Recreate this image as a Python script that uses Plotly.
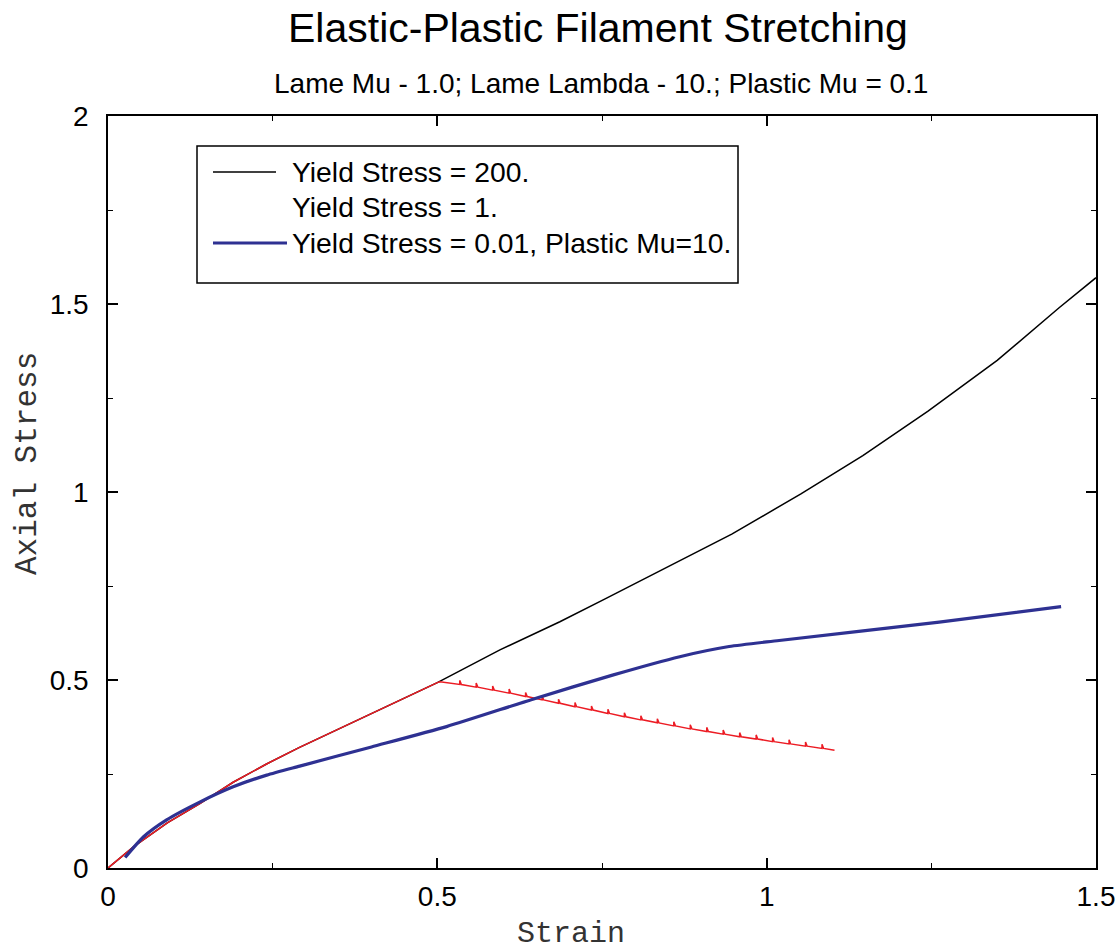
import plotly.graph_objects as go

# ---------------- data ----------------
# Yield Stress = 200. (black)
black_x = [0.0, 0.04, 0.09, 0.14, 0.19, 0.24, 0.29, 0.36, 0.43, 0.5, 0.595, 0.686, 0.754,
           0.848, 0.947, 1.052, 1.146, 1.245, 1.350, 1.444, 1.5]
black_y = [0.0, 0.058, 0.12, 0.172, 0.228, 0.276, 0.32, 0.378, 0.436, 0.493, 0.580, 0.655, 0.715,
           0.800, 0.888, 0.995, 1.097, 1.215, 1.350, 1.490, 1.570]

# Yield Stress = 1. (red) : elastic part, then sawtooth plastic part
red_elastic_x = [0.0, 0.04, 0.09, 0.14, 0.19, 0.24, 0.29, 0.36, 0.43, 0.5, 0.504, 0.52]
red_elastic_y = [0.0, 0.058, 0.12, 0.172, 0.228, 0.276, 0.32, 0.378, 0.436, 0.493, 0.495, 0.491]
red_spike_x = [0.534, 0.559, 0.584, 0.609, 0.634, 0.659, 0.684, 0.709, 0.734, 0.759, 0.784, 0.809,
               0.834, 0.859, 0.884, 0.909, 0.934, 0.959, 0.984, 1.009, 1.034, 1.059, 1.084]
red_base_y = [0.488, 0.481, 0.473, 0.465, 0.456, 0.447, 0.438, 0.429, 0.420, 0.411, 0.402, 0.394,
              0.386, 0.378, 0.370, 0.363, 0.356, 0.349, 0.343, 0.336, 0.330, 0.324, 0.318]
red_top_y = [0.499, 0.492, 0.484, 0.476, 0.467, 0.458, 0.449, 0.440, 0.431, 0.422, 0.413, 0.405,
             0.397, 0.389, 0.381, 0.374, 0.367, 0.360, 0.354, 0.347, 0.341, 0.335, 0.329]
red_end_x = [1.103]
red_end_y = [0.313]

# Yield Stress = 0.01, Plastic Mu=10. (blue)
blue_x = [0.026, 0.054, 0.089, 0.14, 0.19, 0.241, 0.291, 0.4, 0.514, 0.645, 0.766, 0.868,
          0.943, 1.019, 1.262, 1.447]
blue_y = [0.028, 0.083, 0.128, 0.176, 0.216, 0.247, 0.271, 0.322, 0.376, 0.449, 0.513, 0.562,
          0.589, 0.605, 0.654, 0.695]

x_ticks = [0, 0.5, 1, 1.5]
x_tick_labels = ["0", "0.5", "1", "1.5"]
y_ticks = [0, 0.5, 1, 1.5, 2]
y_tick_labels = ["0", "0.5", "1", "1.5", "2"]

legend_labels = ["Yield Stress = 200.", "Yield Stress = 1.", "Yield Stress = 0.01, Plastic Mu=10."]

# ---------------- build red path ----------------
red_x = list(red_elastic_x)
red_y = list(red_elastic_y)
for xs, yb, yt in zip(red_spike_x, red_base_y, red_top_y):
    red_x += [xs, xs, xs + 0.0025]
    red_y += [yb, yt, yb]
red_x += red_end_x
red_y += red_end_y

BLACK = "#000000"
RED = "#ec1c24"
BLUE = "#2e3192"

fig = go.Figure()
fig.add_trace(go.Scatter(x=black_x, y=black_y, mode="lines", line=dict(color=BLACK, width=1.5),
                         showlegend=False, name=legend_labels[0]))
fig.add_trace(go.Scatter(x=red_x, y=red_y, mode="lines", line=dict(color=RED, width=1.5),
                         showlegend=False, name=legend_labels[1]))
fig.add_trace(go.Scatter(x=blue_x, y=blue_y, mode="lines",
                         line=dict(color=BLUE, width=3.2, shape="spline", smoothing=0.6),
                         showlegend=False, name=legend_labels[2]))

FONT = "Liberation Sans, Arial, sans-serif"
MONO = "Liberation Mono, Courier New, monospace"

axis_common = dict(
    showgrid=False, zeroline=False, showline=True, linecolor="black", linewidth=1.5,
    mirror="allticks", ticks="inside", ticklen=10, tickwidth=1.5, tickcolor="black",
    tickfont=dict(family=FONT, size=28, color="black"), automargin=False,
)
fig.update_xaxes(range=[0, 1.5], tickvals=x_ticks, ticktext=x_tick_labels,
                 minor=dict(dtick=0.25, ticks="inside", ticklen=5, tickwidth=1.2, tickcolor="black"),
                 ticklabelstandoff=3, **axis_common)
fig.update_yaxes(range=[0, 2], tickvals=y_ticks, ticktext=y_tick_labels,
                 minor=dict(dtick=0.25, ticks="inside", ticklen=5, tickwidth=1.2, tickcolor="black"),
                 ticklabelstandoff=12, **axis_common)

# legend box (paper coordinates; plot area 988 x 752 px)
def px(xp):
    return (xp - 108) / 988

def py(yp):
    return (868 - yp) / 752

shapes = [
    dict(type="rect", xref="paper", yref="paper", x0=px(197), x1=px(738), y0=py(283), y1=py(146),
         line=dict(color="black", width=1.5), fillcolor="white", layer="above"),
    dict(type="line", xref="paper", yref="paper", x0=px(213), x1=px(276), y0=py(172), y1=py(172),
         line=dict(color=BLACK, width=1.5), layer="above"),
    dict(type="line", xref="paper", yref="paper", x0=px(213), x1=px(287), y0=py(243), y1=py(243),
         line=dict(color=BLUE, width=3), layer="above"),
]
annotations = []
for lab, yy in zip(legend_labels, [172, 207, 243]):
    annotations.append(dict(text=lab, xref="paper", yref="paper", x=px(290), y=py(yy),
                            xanchor="left", yanchor="middle", showarrow=False,
                            font=dict(family=FONT, size=28.3, color="black")))

# titles
annotations.append(dict(text="Elastic-Plastic Filament Stretching", xref="paper", yref="paper",
                        x=px(598), y=py(28), xanchor="center", yanchor="middle",
                        showarrow=False, font=dict(family=FONT, size=41, color="black")))
annotations.append(dict(text="Lame Mu - 1.0; Lame Lambda - 10.; Plastic Mu = 0.1", xref="paper",
                        yref="paper", x=px(601), y=py(84), xanchor="center", yanchor="middle",
                        showarrow=False, font=dict(family=FONT, size=28, color="black")))
annotations.append(dict(text="Strain", xref="paper", yref="paper",
                        x=px(571), y=py(934), xanchor="center", yanchor="middle",
                        showarrow=False, font=dict(family=MONO, size=30, color="#333333")))
annotations.append(dict(text="Axial Stress", xref="paper", yref="paper", textangle=-90,
                        x=px(27), y=py(464), xanchor="center", yanchor="middle",
                        showarrow=False, font=dict(family=MONO, size=31, color="#333333")))

fig.update_layout(
    width=1120, height=951,
    margin=dict(l=108, r=24, t=116, b=83, pad=0, autoexpand=False),
    paper_bgcolor="white", plot_bgcolor="white",
    shapes=shapes, annotations=annotations,
    showlegend=False,
)

fig.write_html("out.html")
